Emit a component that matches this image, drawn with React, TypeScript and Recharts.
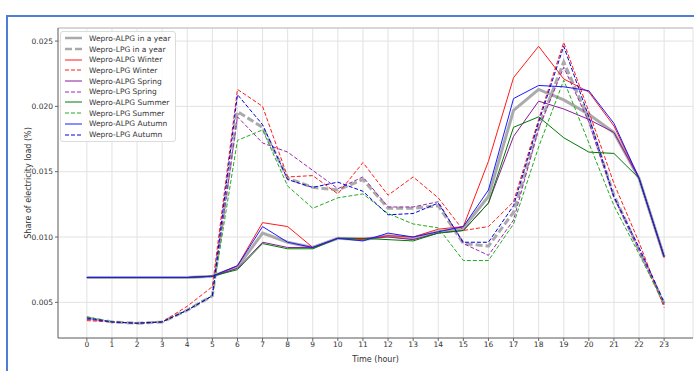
import React from 'react';
import {
  LineChart,
  Line,
  XAxis,
  YAxis,
  CartesianGrid,
  ReferenceLine,
} from 'recharts';

const HOURS = [0, 1, 2, 3, 4, 5, 6, 7, 8, 9, 10, 11, 12, 13, 14, 15, 16, 17, 18, 19, 20, 21, 22, 23];
const Y_TICKS = [0.005, 0.01, 0.015, 0.02, 0.025];

const ALPG_YEAR = [0.0069, 0.0069, 0.0069, 0.0069, 0.0069, 0.007, 0.0077, 0.0103, 0.0096, 0.0092, 0.0099, 0.0098, 0.0101, 0.0099, 0.0104, 0.0107, 0.0131, 0.0197, 0.0213, 0.0205, 0.0194, 0.018, 0.0145, 0.0085];
const LPG_YEAR = [0.0038, 0.0035, 0.0034, 0.0035, 0.0044, 0.0055, 0.0196, 0.0184, 0.0145, 0.0138, 0.0136, 0.0144, 0.0122, 0.0122, 0.0124, 0.0095, 0.0093, 0.0119, 0.0184, 0.0234, 0.019, 0.0132, 0.009, 0.0049];
const ALPG_WINTER = [0.0069, 0.0069, 0.0069, 0.0069, 0.0069, 0.007, 0.0078, 0.0111, 0.0108, 0.0092, 0.0099, 0.0098, 0.0101, 0.01, 0.0106, 0.0108, 0.0158, 0.0222, 0.0246, 0.0221, 0.0211, 0.0185, 0.0145, 0.0084];
const LPG_WINTER = [0.0036, 0.0035, 0.0034, 0.0035, 0.0047, 0.0062, 0.0213, 0.02, 0.0146, 0.0147, 0.0133, 0.0157, 0.0132, 0.0146, 0.013, 0.0105, 0.0108, 0.0127, 0.019, 0.0249, 0.0196, 0.0141, 0.0096, 0.0046];
const ALPG_SPRING = [0.0069, 0.0069, 0.0069, 0.0069, 0.0069, 0.007, 0.0076, 0.0096, 0.0092, 0.0092, 0.0099, 0.0099, 0.01, 0.0098, 0.0103, 0.0105, 0.0126, 0.0177, 0.0204, 0.0198, 0.019, 0.018, 0.0145, 0.0085];
const LPG_SPRING = [0.0037, 0.0035, 0.0034, 0.0035, 0.0044, 0.0055, 0.0192, 0.0172, 0.0165, 0.0151, 0.0137, 0.0146, 0.0123, 0.0123, 0.0127, 0.0095, 0.0086, 0.0113, 0.0183, 0.023, 0.0188, 0.013, 0.009, 0.0048];
const ALPG_SUMMER = [0.0069, 0.0069, 0.0069, 0.0069, 0.0069, 0.007, 0.0075, 0.0095, 0.0091, 0.0091, 0.0099, 0.0099, 0.0098, 0.0097, 0.0103, 0.0105, 0.0126, 0.0184, 0.0192, 0.0176, 0.0165, 0.0164, 0.0145, 0.0085];
const LPG_SUMMER = [0.0039, 0.0035, 0.0034, 0.0035, 0.0044, 0.0055, 0.0174, 0.0182, 0.0139, 0.0122, 0.013, 0.0133, 0.0118, 0.011, 0.0107, 0.0082, 0.0082, 0.011, 0.0169, 0.022, 0.0172, 0.0124, 0.0087, 0.0049];
const ALPG_AUTUMN = [0.0069, 0.0069, 0.0069, 0.0069, 0.0069, 0.007, 0.0078, 0.0108, 0.0096, 0.0092, 0.0099, 0.0097, 0.0103, 0.01, 0.0104, 0.0108, 0.0136, 0.0206, 0.0216, 0.0215, 0.0212, 0.0187, 0.0145, 0.0085];
const LPG_AUTUMN = [0.0038, 0.0035, 0.0034, 0.0035, 0.0044, 0.0055, 0.0209, 0.0186, 0.0144, 0.0138, 0.0142, 0.0135, 0.0117, 0.0118, 0.0126, 0.0096, 0.0096, 0.0124, 0.0188, 0.0246, 0.0192, 0.0131, 0.0092, 0.005];

const SERIES = [
  { key: 'alpgYear', name: 'Wepro-ALPG in a year', values: ALPG_YEAR, color: '#aaaaaa', width: 3, dash: undefined },
  { key: 'lpgYear', name: 'Wepro-LPG in a year', values: LPG_YEAR, color: '#aaaaaa', width: 3, dash: '7 3' },
  { key: 'alpgWinter', name: 'Wepro-ALPG Winter', values: ALPG_WINTER, color: '#ff1a1a', width: 1, dash: undefined },
  { key: 'lpgWinter', name: 'Wepro-LPG Winter', values: LPG_WINTER, color: '#ff1a1a', width: 1, dash: '4 2' },
  { key: 'alpgSpring', name: 'Wepro-ALPG Spring', values: ALPG_SPRING, color: '#8a1a9a', width: 1, dash: undefined },
  { key: 'lpgSpring', name: 'Wepro-LPG Spring', values: LPG_SPRING, color: '#9a2aaa', width: 1, dash: '4 2' },
  { key: 'alpgSummer', name: 'Wepro-ALPG Summer', values: ALPG_SUMMER, color: '#007a00', width: 1, dash: undefined },
  { key: 'lpgSummer', name: 'Wepro-LPG Summer', values: LPG_SUMMER, color: '#22aa22', width: 1, dash: '4 2' },
  { key: 'alpgAutumn', name: 'Wepro-ALPG Autumn', values: ALPG_AUTUMN, color: '#1a1aff', width: 1, dash: undefined },
  { key: 'lpgAutumn', name: 'Wepro-LPG Autumn', values: LPG_AUTUMN, color: '#0000dd', width: 1, dash: '4 2' },
];

const data = HOURS.map((h, i) => {
  const row: Record<string, number> = { hour: h };
  SERIES.forEach((s) => {
    row[s.key] = s.values[i];
  });
  return row;
});

const FONT = "'DejaVu Sans', sans-serif";
const tickStyle = { fontSize: 7.5, fill: '#333', fontFamily: FONT };

function LegendBox() {
  return (
    <div
      style={{
        position: 'absolute',
        left: 60,
        top: 31,
        padding: '1px 4px 1px 3px',
        background: 'rgba(255,255,255,0.85)',
        border: '1px solid #dcdcdc',
        borderRadius: 3,
        fontFamily: FONT,
        fontSize: 7.5,
        color: '#333',
      }}
    >
      {SERIES.map((s) => (
        <div key={s.key} style={{ display: 'flex', alignItems: 'center', height: 10.7 }}>
          <svg width={20} height={6}>
            <line
              x1={1}
              x2={18}
              y1={3}
              y2={3}
              stroke={s.color}
              strokeWidth={s.width === 3 ? 2.5 : 1}
              strokeDasharray={s.dash}
            />
          </svg>
          <span style={{ marginLeft: 5, whiteSpace: 'nowrap' }}>{s.name}</span>
        </div>
      ))}
    </div>
  );
}

export default function App() {
  return (
    <div
      style={{
        position: 'fixed',
        left: 0,
        top: 0,
        width: 694,
        height: 371,
        background: '#fff',
        overflow: 'hidden',
      }}
    >
      <div
        style={{
          position: 'absolute',
          left: 6,
          top: 15,
          width: 720,
          height: 400,
          borderLeft: '2px solid #4f7fd4',
          borderTop: '2px solid #4f7fd4',
        }}
      />
      <div style={{ position: 'absolute', left: 0, top: 0 }}>
        <LineChart width={694} height={371} data={data} margin={{ top: 28, right: 1, bottom: 0, left: 0 }}>
          <CartesianGrid stroke="#e2e2e2" strokeWidth={1} />
          <XAxis
            dataKey="hour"
            type="number"
            domain={[-1.15, 24.15]}
            ticks={HOURS}
            interval={0}
            allowDataOverflow
            height={33}
            tick={tickStyle}
            tickSize={3}
            tickMargin={1}
            stroke="#666"
            label={{ value: 'Time (hour)', position: 'insideBottom', offset: 9, style: { fontSize: 8, fill: '#333', fontFamily: FONT } }}
          />
          <YAxis
            type="number"
            domain={[0.00227, 0.026]}
            ticks={Y_TICKS}
            allowDataOverflow
            width={58}
            tick={tickStyle}
            tickSize={3}
            tickMargin={2}
            stroke="#666"
            tickFormatter={(v: number) => v.toFixed(3)}
            label={{ value: 'Share of electricity load (%)', angle: -90, position: 'center', dx: -1, style: { fontSize: 8, fill: '#333', fontFamily: FONT, textAnchor: 'middle' } }}
          />
          <ReferenceLine y={0.026} stroke="#bdbdbd" strokeWidth={1} />
          {SERIES.map((s) => (
            <Line
              key={s.key}
              type="linear"
              dataKey={s.key}
              name={s.name}
              stroke={s.color}
              strokeWidth={s.width}
              strokeDasharray={s.dash}
              dot={false}
              activeDot={false}
              isAnimationActive={false}
            />
          ))}
        </LineChart>
      </div>
      <LegendBox />
    </div>
  );
}
